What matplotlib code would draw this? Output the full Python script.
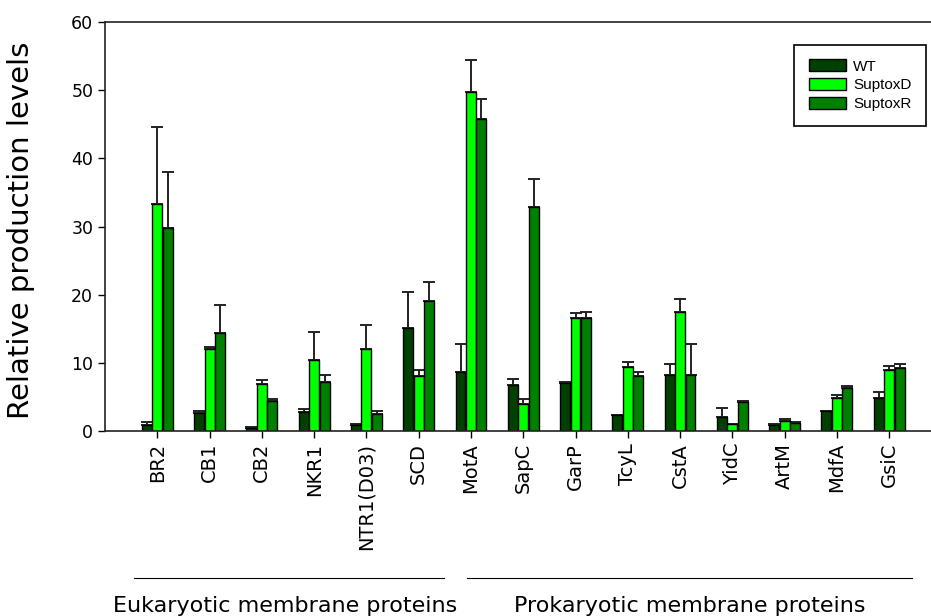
import matplotlib
matplotlib.use('Agg')
import matplotlib.pyplot as plt
import numpy as np

proteins = ['BR2', 'CB1', 'CB2', 'NKR1', 'NTR1(D03)', 'SCD', 'MotA', 'SapC',
            'GarP', 'TcyL', 'CstA', 'YidC', 'ArtM', 'MdfA', 'GsiC']

wt = [0.9, 2.6, 0.5, 2.8, 0.9, 15.1, 8.6, 6.7, 7.0, 2.3, 8.2, 2.1, 0.9, 2.9, 4.8]
wt_err = [0.4, 0.3, 0.1, 0.5, 0.2, 5.3, 4.1, 0.9, 0.2, 0.0, 1.7, 1.3, 0.1, 0.0, 0.9]

suptox_d = [33.3, 12.0, 6.9, 10.4, 12.0, 8.0, 49.7, 3.9, 16.6, 9.4, 17.5, 1.0, 1.5, 4.9, 8.9]
suptox_d_err = [11.3, 0.3, 0.6, 4.1, 3.6, 1.0, 4.7, 0.8, 0.7, 0.7, 1.8, 0.1, 0.3, 0.4, 0.6]

suptox_r = [29.8, 14.4, 4.4, 7.2, 2.5, 19.0, 45.7, 32.9, 16.6, 8.0, 8.2, 4.3, 1.2, 6.3, 9.2]
suptox_r_err = [8.2, 4.1, 0.3, 1.0, 0.4, 2.8, 3.0, 4.0, 0.9, 0.7, 4.6, 0.1, 0.1, 0.3, 0.6]

groups = ['Eukaryotic membrane proteins', 'Prokaryotic membrane proteins']

series = [('WT', wt, wt_err, '#004000'),
          ('SuptoxD', suptox_d, suptox_d_err, '#00ff00'),
          ('SuptoxR', suptox_r, suptox_r_err, '#008000')]

fig = plt.figure(figsize=(9.31, 6.16), dpi=100)
ax = fig.add_axes([0.1128, 0.3003, 0.8872, 0.664])

x = np.arange(1, len(proteins) + 1)
width = 0.19
offsets = [-0.2, 0.0, 0.2]

for (name, vals, errs, col), off in zip(series, offsets):
    ax.bar(x + off, vals, width, color=col, edgecolor='black', linewidth=1.0,
           label=name, zorder=2)
    ax.errorbar(x + off, vals, yerr=[np.zeros(len(errs)), errs], fmt='none',
                ecolor='#222222', elinewidth=1.4, capsize=4.5, capthick=1.4, zorder=1)

ax.set_xlim(0, 15.8)
ax.set_ylim(0, 60)
ax.set_yticks(np.arange(0, 61, 10))
ax.set_xticks(x)
ax.set_xticklabels(proteins, rotation=90, fontsize=14)
ax.tick_params(axis='y', labelsize=12.5, direction='out', length=5, width=1)
ax.tick_params(axis='x', direction='out', length=5, width=1)
ax.spines['right'].set_visible(False)
for s in ['left', 'top', 'bottom']:
    ax.spines[s].set_linewidth(1.2)
    ax.spines[s].set_color('#222222')

ax.set_ylabel('Relative production levels', fontsize=21)
ax.yaxis.set_label_coords(-0.085, 0.49)

leg = ax.legend(loc='upper right', bbox_to_anchor=(0.994, 0.944),
                borderaxespad=0,
                prop={'family': 'Liberation Sans', 'size': 11},
                fancybox=False, edgecolor='black', framealpha=1,
                handlelength=2.4, handleheight=0.8, borderpad=0.95,
                labelspacing=0.3, handletextpad=0.5)
leg.get_frame().set_linewidth(1.2)

# group separators below the tick labels
fig.add_artist(plt.Line2D([134 / 931, 444 / 931], [1 - 578 / 616] * 2,
                          color='black', linewidth=0.8))
fig.add_artist(plt.Line2D([467 / 931, 912 / 931], [1 - 578 / 616] * 2,
                          color='black', linewidth=0.8))
fig.text(285 / 931, 1 - 606 / 616, groups[0], ha='center', va='center', fontsize=16)
fig.text(690 / 931, 1 - 606 / 616, groups[1], ha='center', va='center', fontsize=16)

fig.savefig('out.png', dpi=100)
